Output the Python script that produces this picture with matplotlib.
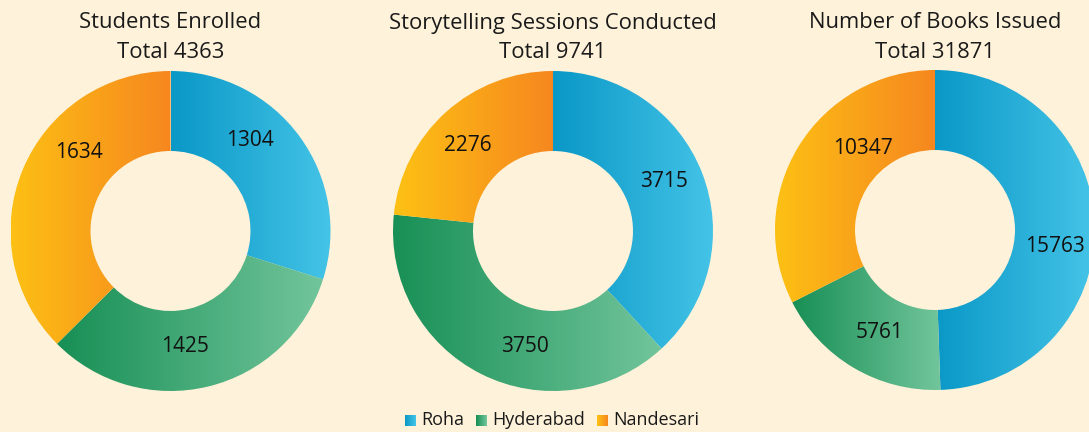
import numpy as np
import matplotlib
matplotlib.use("Agg")
import matplotlib.pyplot as plt
from matplotlib.patches import Wedge
from matplotlib.colors import LinearSegmentedColormap

titles = ["Students Enrolled", "Storytelling Sessions Conducted", "Number of Books Issued"]
regions = ["Roha", "Hyderabad", "Nandesari"]
students = [1304, 1425, 1634]
sessions = [3715, 3750, 2276]
books = [15763, 5761, 10347]
datasets = [students, sessions, books]

# label placement nudges (degrees from wedge middle, radius fraction)
label_angle_nudge = [[12.5, -6.7, -18.1], [2.9, 12.9, 2.7], [-8.6, 2.3, -16.9]]
label_radius = [[0.75, 0.73, 0.755], [0.76, 0.74, 0.755], [0.755, 0.725, 0.68]]

grad_colors = {
    "Roha": ("#0A98C7", "#45C4E7"),
    "Hyderabad": ("#178F55", "#72C59B"),
    "Nandesari": ("#FDC114", "#F6871F"),
}
BG = "#FEF2DA"

W, H = 1089, 432
fig = plt.figure(figsize=(W / 100, H / 100), dpi=100, facecolor=BG)
plt.rcParams['font.family'] = ['Open Sans', 'DejaVu Sans']

centers = [(170.5, 231), (553, 231), (935, 230)]
R = 160

for i, ((cx, cy), title, vals) in enumerate(zip(centers, titles, datasets)):
    ax = fig.add_axes([(cx - R) / W, (H - cy - R) / H, 2 * R / W, 2 * R / H])
    ax.set_xlim(-1, 1)
    ax.set_ylim(-1, 1)
    ax.set_aspect('equal')
    ax.axis('off')
    ax.patch.set_alpha(0)
    total = sum(vals)
    start = 90.0
    for j, (reg, v) in enumerate(zip(regions, vals)):
        sweep = v / total * 360.0
        t1, t2 = start - sweep, start
        w = Wedge((0, 0), 1.0, t1, t2, width=0.5, facecolor='none', edgecolor='none')
        ax.add_patch(w)
        verts = w.get_path().vertices
        x0, x1 = verts[:, 0].min(), verts[:, 0].max()
        y0, y1 = verts[:, 1].min(), verts[:, 1].max()
        cmap = LinearSegmentedColormap.from_list(reg, grad_colors[reg])
        grad = np.linspace(0, 1, 256).reshape(1, -1)
        im = ax.imshow(grad, cmap=cmap, extent=[x0, x1, y0, y1], aspect='auto',
                       interpolation='bilinear', zorder=1)
        im.set_clip_path(w)
        mid = np.deg2rad((t1 + t2) / 2 + label_angle_nudge[i][j])
        rr = label_radius[i][j]
        ax.text(rr * np.cos(mid), rr * np.sin(mid), f"{v}", ha='center', va='center',
                fontsize=15, color='#111111', zorder=3)
        start = t1
    ax.set_xlim(-1, 1)
    ax.set_ylim(-1, 1)
    fig.text(cx / W, (H - 23) / H, title, ha='center', va='center', fontsize=15.8, color='#1a1a1a')
    fig.text(cx / W, (H - 53) / H, f"Total {total}", ha='center', va='center', fontsize=15.8, color='#1a1a1a')

# legend
lax = fig.add_axes([0, 0, 1, 1])
lax.set_xlim(0, W)
lax.set_ylim(H, 0)
lax.axis('off')
lax.patch.set_alpha(0)
sq_x = [405, 476, 597]
for x, reg in zip(sq_x, regions):
    cmap = LinearSegmentedColormap.from_list(reg, grad_colors[reg])
    grad = np.linspace(0, 1, 32).reshape(1, -1)
    lax.imshow(grad, cmap=cmap, extent=[x, x + 11, 426, 415], aspect='auto', interpolation='bilinear')
    lax.text(x + 16, 420, reg, ha='left', va='center', fontsize=13, color='#1a1a1a')
lax.set_xlim(0, W)
lax.set_ylim(H, 0)

fig.savefig("out.png", dpi=100, facecolor=BG)
